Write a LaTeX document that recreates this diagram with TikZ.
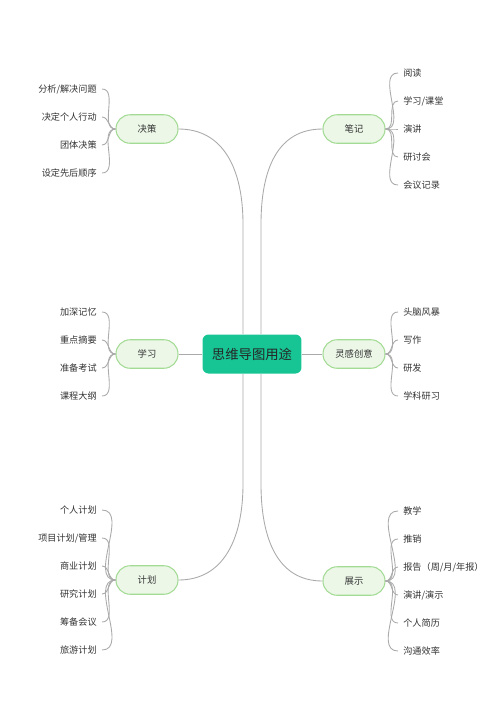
\documentclass[tikz,border=0pt]{standalone}
\usepackage{fontspec}
\setmainfont{Noto Sans CJK SC}
\usetikzlibrary{calc}
\definecolor{rootfill}{RGB}{22,196,148}
\definecolor{subfill}{RGB}{236,247,232}
\definecolor{subdraw}{RGB}{163,219,148}
\definecolor{linkgray}{RGB}{170,170,170}
\definecolor{txt}{RGB}{51,51,51}
\tikzset{
  root/.style={fill=rootfill, rounded corners=0.12cm, minimum width=1.98cm, minimum height=0.78cm, font=\fontsize{7.6pt}{9pt}\selectfont, text=black!85},
  sub/.style={fill=subfill, draw=subdraw, line width=0.6pt, rounded corners=0.28cm, minimum width=1.24cm, minimum height=0.57cm, font=\fontsize{5.3pt}{6.5pt}\selectfont, text=txt},
  leaf/.style={inner sep=0.1cm, font=\fontsize{5.2pt}{6.5pt}\selectfont, text=txt},
  link/.style={draw=linkgray, line width=0.5pt},
}
\begin{document}
\begin{tikzpicture}[x=0.02cm, y=-0.02cm]
    \useasboundingbox (0,0) rectangle (500,707);
    % centre and branches
    \node[root] (root) at (252,354) {思维导图用途};
    \node[sub] (jc) at (147,129) {决策};
    \node[sub] (bj) at (354,129) {笔记};
    \node[sub] (xx) at (147,354) {学习};
    \node[sub] (lg) at (354,354) {灵感创意};
    \node[sub] (jh) at (147,580) {计划};
    \node[sub] (zs) at (354,581) {展示};
    \coordinate (lt) at ($(root.north)+(-9,0)$);
    \coordinate (rt) at ($(root.north)+(9,0)$);
    \coordinate (lb) at ($(root.south)+(-9,0)$);
    \coordinate (rb) at ($(root.south)+(9,0)$);
    \draw[link] (jc.east) .. controls +(45,0) and +(0,-55) .. ($(lt)+(0,-110)$) -- (lt);
    \draw[link] (bj.west) .. controls +(-45,0) and +(0,-55) .. ($(rt)+(0,-110)$) -- (rt);
    \draw[link] (jh.east) .. controls +(45,0) and +(0,55) .. ($(lb)+(0,110)$) -- (lb);
    \draw[link] (zs.west) .. controls +(-45,0) and +(0,55) .. ($(rb)+(0,110)$) -- (rb);
    \draw[link] (xx.east) -- (root.west);
    \draw[link] (root.east) -- (lg.west);
    % leaves
    \foreach \t [count=\i] in {分析/解决问题,决定个人行动,团体决策,设定先后顺序}
        \node[leaf, anchor=east] (jc\i) at (102,{61+28*\i}) {\t};
    \foreach \t [count=\i] in {阅读,学习/课堂,演讲,研讨会,会议记录}
        \node[leaf, anchor=west] (bj\i) at (398,{45+28*\i}) {\t};
    \foreach \t [count=\i] in {加深记忆,重点摘要,准备考试,课程大纲}
        \node[leaf, anchor=east] (xx\i) at (102,{284+28*\i}) {\t};
    \foreach \t [count=\i] in {头脑风暴,写作,研发,学科研习}
        \node[leaf, anchor=west] (lg\i) at (398,{284+28*\i}) {\t};
    \foreach \t [count=\i] in {个人计划,项目计划/管理,商业计划,研究计划,筹备会议,旅游计划}
        \node[leaf, anchor=east] (jh\i) at (102,{482+28*\i}) {\t};
    \foreach \t [count=\i] in {教学,推销,报告（周/月/年报）,演讲/演示,个人简历,沟通效率}
        \node[leaf, anchor=west] (zs\i) at (398,{483+28*\i}) {\t};
    \foreach \i in {1,...,4} \draw[link] (jc.west) to[out=180,in=0] (jc\i.east);
    \foreach \i in {1,...,5} \draw[link] (bj.east) to[out=0,in=180] (bj\i.west);
    \foreach \i in {1,...,4} \draw[link] (xx.west) to[out=180,in=0] (xx\i.east);
    \foreach \i in {1,...,4} \draw[link] (lg.east) to[out=0,in=180] (lg\i.west);
    \foreach \i in {1,...,6} \draw[link] (jh.west) to[out=180,in=0] (jh\i.east);
    \foreach \i in {1,...,6} \draw[link] (zs.east) to[out=0,in=180] (zs\i.west);
\end{tikzpicture}
\end{document}
